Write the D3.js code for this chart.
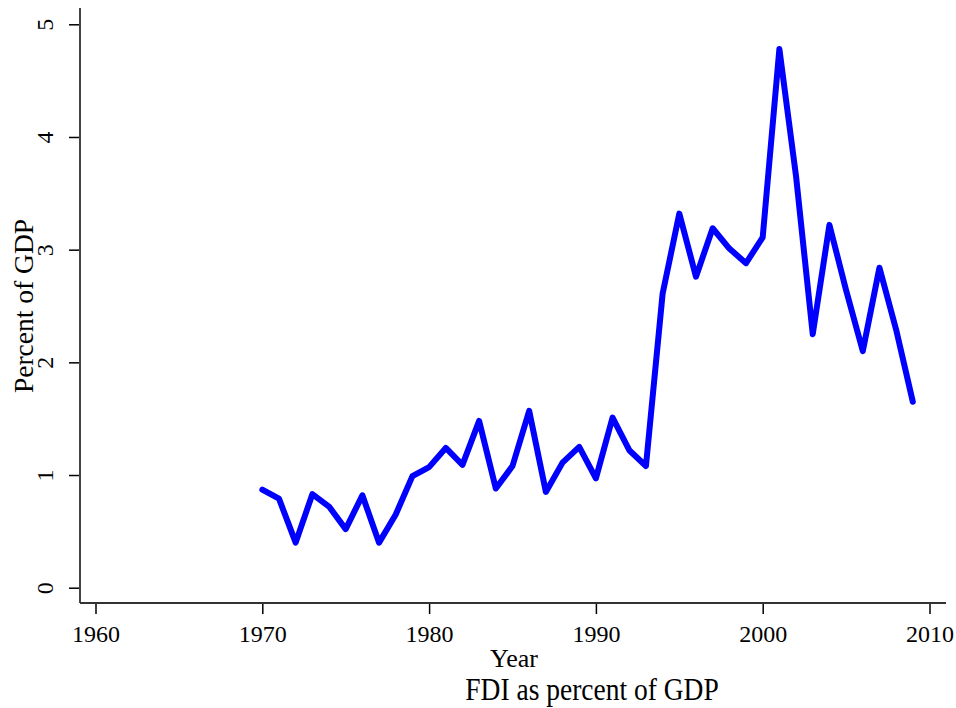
<!DOCTYPE html>
<html>
<head>
<meta charset="utf-8">
<script src="https://cdn.jsdelivr.net/npm/d3@7"></script>
<style>
  body { margin: 0; background: #fff; }
  text { font-family: "Liberation Serif", "Times New Roman", serif; fill: #000; }
</style>
</head>
<body>
<div id="chart"></div>
<script>
// FDI as percent of GDP, 1970-2009
var years = [1970, 1971, 1972, 1973, 1974, 1975, 1976, 1977, 1978, 1979,
             1980, 1981, 1982, 1983, 1984, 1985, 1986, 1987, 1988, 1989,
             1990, 1991, 1992, 1993, 1994, 1995, 1996, 1997, 1998, 1999,
             2000, 2001, 2002, 2003, 2004, 2005, 2006, 2007, 2008, 2009];
var fdi = [0.87, 0.79, 0.40, 0.83, 0.72, 0.52, 0.82, 0.40, 0.65, 0.99,
           1.07, 1.24, 1.09, 1.48, 0.88, 1.08, 1.57, 0.85, 1.11, 1.25,
           0.97, 1.51, 1.22, 1.08, 2.61, 3.32, 2.76, 3.19, 3.01, 2.88,
           3.11, 4.78, 3.65, 2.25, 3.22, 2.64, 2.10, 2.84, 2.29, 1.65];
var xTicks = [1960, 1970, 1980, 1990, 2000, 2010];
var yTicks = [0, 1, 2, 3, 4, 5];

var w = 956, h = 708;

var svg = d3.select("#chart").append("svg")
    .attr("width", w)
    .attr("height", h);

var x = d3.scaleLinear().domain([1960, 2010]).range([95.5, 929.5]);
var y = d3.scaleLinear().domain([0, 5]).range([587.7, 24.3]);

var axisX = 80, axisY = 603;

// x axis
var gx = svg.append("g")
    .attr("transform", "translate(0," + axisY + ")")
    .call(d3.axisBottom(x).tickValues(xTicks).tickFormat(d3.format("d")).tickSize(11));
gx.select(".domain").remove();
gx.selectAll("line").attr("stroke", "#000").attr("stroke-width", 1.5);
gx.selectAll("text")
    .attr("font-size", 24)
    .attr("y", 39).attr("dy", null);

// y axis, labels rotated like stata
var gy = svg.append("g")
    .attr("transform", "translate(" + axisX + ",0)")
    .call(d3.axisLeft(y).tickValues(yTicks).tickFormat(d3.format("d")).tickSize(11));
gy.select(".domain").remove();
gy.selectAll("line").attr("stroke", "#000").attr("stroke-width", 1.5);
gy.selectAll("text")
    .attr("font-size", 24)
    .attr("x", null).attr("dy", null)
    .attr("text-anchor", "middle")
    .attr("transform", "translate(-27,0) rotate(-90)");

// axis lines
svg.append("line")
    .attr("x1", axisX).attr("x2", axisX)
    .attr("y1", 8).attr("y2", axisY)
    .attr("stroke", "#444").attr("stroke-width", 2);
svg.append("line")
    .attr("x1", axisX).attr("x2", 946)
    .attr("y1", axisY).attr("y2", axisY)
    .attr("stroke", "#333").attr("stroke-width", 2);

// the series
var line = d3.line()
    .x(function(d, i) { return x(years[i]); })
    .y(function(d) { return y(d); });

svg.append("path")
    .datum(fdi)
    .attr("d", line)
    .attr("fill", "none")
    .attr("stroke", "#0000ff")
    .attr("stroke-width", 6)
    .attr("stroke-linejoin", "round")
    .attr("stroke-linecap", "round");

// titles
svg.append("text")
    .attr("transform", "translate(33,306) rotate(-90)")
    .attr("text-anchor", "middle")
    .attr("font-size", 27.5)
    .text("Percent of GDP");

svg.append("text")
    .attr("x", 514).attr("y", 667)
    .attr("text-anchor", "middle")
    .attr("font-size", 26)
    .text("Year");

// note is drawn a bit taller than wide in the original
svg.append("text")
    .attr("transform", "translate(592,700) scale(1,1.15)")
    .attr("text-anchor", "middle")
    .attr("font-size", 27.5)
    .text("FDI as percent of GDP");
</script>
</body>
</html>
